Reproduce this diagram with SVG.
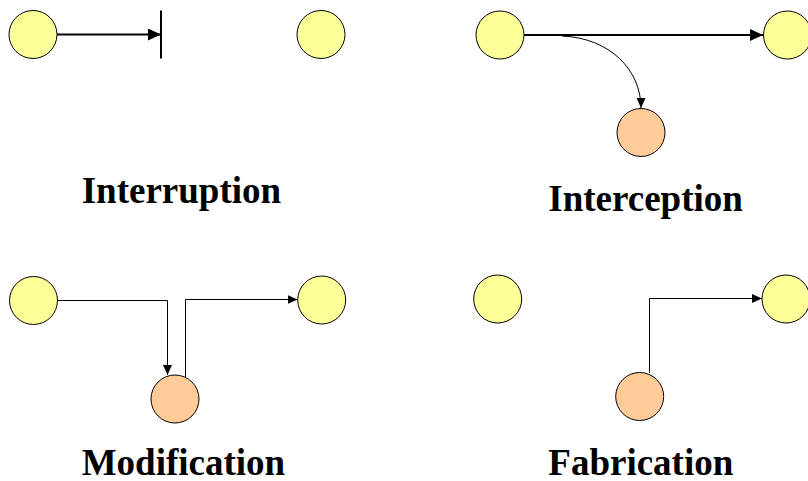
<svg xmlns="http://www.w3.org/2000/svg" width="808" height="481" viewBox="0 0 808 481">
  <style>
    .host { fill: #FFFF99; stroke: #000; stroke-width: 1; }
    .attacker { fill: #FFCC99; stroke: #000; stroke-width: 1; }
    .flow { fill: none; stroke: #000; }
    .thick { stroke-width: 2; }
    .thin { stroke-width: 1; }
    .label { font-family: "Liberation Serif", "Times New Roman", serif; font-weight: bold; font-size: 37px; fill: #000; }
  </style>
  <defs>
    <marker id="headBig" viewBox="0 0 13 12" refX="13" refY="6" markerWidth="13" markerHeight="12" markerUnits="userSpaceOnUse" orient="auto">
      <path d="M0,0 L13,6 L0,12 Z" fill="#000"/>
    </marker>
    <marker id="headSmall" viewBox="0 0 10 9" refX="10" refY="4.5" markerWidth="10" markerHeight="9" markerUnits="userSpaceOnUse" orient="auto">
      <path d="M0,0 L10,4.5 L0,9 Z" fill="#000"/>
    </marker>
  </defs>

  <rect width="808" height="481" fill="#fff"/>

  <!-- connectors -->
  <g id="connectors">
    <!-- interruption: blocked flow -->
    <line class="flow thick" x1="57" y1="34.5" x2="161" y2="34.5" marker-end="url(#headBig)"/>
    <line class="flow thick" x1="161" y1="10.5" x2="161" y2="58.5"/>
    <!-- interception -->
    <line class="flow thick" x1="524" y1="35" x2="763" y2="35" marker-end="url(#headBig)"/>
    <path class="flow thin" d="M562,36 C610,38 641,70 641,108" marker-end="url(#headSmall)"/>
    <!-- modification -->
    <polyline class="flow thin" points="57.5,300.5 167.5,300.5 167.5,375" marker-end="url(#headSmall)"/>
    <polyline class="flow thin" points="185.5,377 185.5,299.5 297.5,299.5" marker-end="url(#headSmall)"/>
    <!-- fabrication -->
    <polyline class="flow thin" points="649.5,373 649.5,298.5 762,298.5" marker-end="url(#headSmall)"/>
  </g>

  <!-- interruption -->
  <g id="interruption-source"><circle class="host" cx="33" cy="34.5" r="24"/></g>
  <g id="interruption-dest"><circle class="host" cx="321" cy="34.5" r="24"/></g>
  <g id="interruption-label"><text class="label" x="81.7" y="203">Interruption</text></g>

  <!-- interception -->
  <g id="interception-source"><circle class="host" cx="500" cy="35" r="24"/></g>
  <g id="interception-dest"><circle class="host" cx="787.5" cy="35" r="24"/></g>
  <g id="interception-attacker"><circle class="attacker" cx="641" cy="132.5" r="24"/></g>
  <g id="interception-label"><text class="label" x="548.3" y="211">Interception</text></g>

  <!-- modification -->
  <g id="modification-source"><circle class="host" cx="33.5" cy="300.5" r="24"/></g>
  <g id="modification-dest"><circle class="host" cx="321.7" cy="300" r="24"/></g>
  <g id="modification-attacker"><circle class="attacker" cx="175" cy="399" r="24"/></g>
  <g id="modification-label"><text class="label" x="81.7" y="474.5">Modification</text></g>

  <!-- fabrication -->
  <g id="fabrication-source"><circle class="host" cx="497.7" cy="299" r="24"/></g>
  <g id="fabrication-dest"><circle class="host" cx="786" cy="299" r="24"/></g>
  <g id="fabrication-attacker"><circle class="attacker" cx="639.7" cy="396.5" r="24"/></g>
  <g id="fabrication-label"><text class="label" x="548.3" y="474.5">Fabrication</text></g>
</svg>
